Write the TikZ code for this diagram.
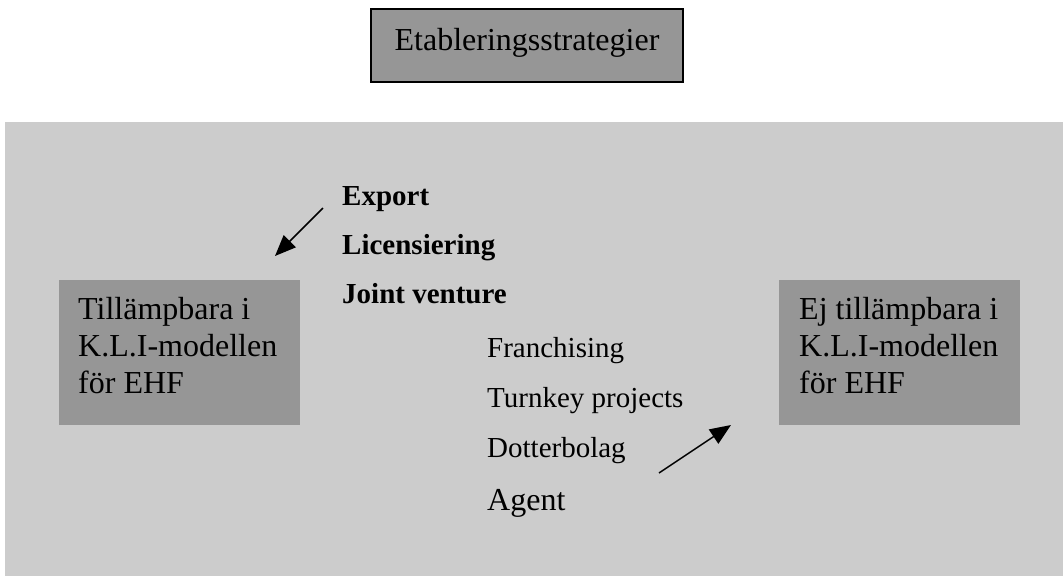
\documentclass[tikz,border=0pt]{standalone}
\usepackage{fontspec}
\setmainfont{Liberation Serif}
\usetikzlibrary{arrows.meta}

\definecolor{panelgray}{HTML}{CCCCCC}
\definecolor{boxgray}{HTML}{969696}

\tikzset{
  x=1pt, y=-1pt,
  titlebox/.style={draw=black, line width=2pt, fill=boxgray, inner sep=0pt,
    minimum width=312pt, text height=41pt, text depth=32pt,
    font=\fontsize{32}{37}\selectfont, anchor=north},
  panelbox/.style={fill=panelgray, inner sep=0pt, anchor=north west,
    minimum width=1058pt, minimum height=454pt},
  sidebox/.style={fill=boxgray, inner sep=0pt, anchor=north west,
    minimum width=241pt, minimum height=145pt},
  sidetext/.style={font=\fontsize{32}{37}\selectfont, align=left,
    anchor=north west, inner sep=0pt},
  strong/.style={font=\fontsize{29}{29}\selectfont\bfseries,
    anchor=base west, inner sep=0pt},
  plain/.style={font=\fontsize{29}{29}\selectfont,
    anchor=base west, inner sep=0pt},
  plainbig/.style={font=\fontsize{32}{32}\selectfont,
    anchor=base west, inner sep=0pt},
  pointer/.style={line width=1.5pt, -{Triangle[length=21pt,width=17pt]}}
}

\begin{document}
\begin{tikzpicture}
  \useasboundingbox (0,0) rectangle (1063,576);

  % heading
  \node[titlebox] (title) at (527,8) {Etableringsstrategier};

  % grey panel holding the classification
  \node[panelbox] (panel) at (5,122) {};

  % the two target groups
  \node[sidebox] (lbox) at (59,280) {};
  \node[sidetext] (ltext) at (78,297) {Tillämpbara i\\K.L.I-modellen\\för EHF};
  \node[sidebox] (rbox) at (779,280) {};
  \node[sidetext] (rtext) at (799,297) {Ej tillämpbara i\\K.L.I-modellen\\för EHF};

  % applicable strategies
  \node[strong] (export) at (342,205) {Export};
  \node[strong] (lic) at (342,254) {Licensiering};
  \node[strong] (jv) at (342,303) {Joint venture};

  % non-applicable strategies
  \node[plain] (franch) at (487,357) {Franchising};
  \node[plain] (turnkey) at (487,407) {Turnkey projects};
  \node[plain] (dotter) at (487,457) {Dotterbolag};
  \node[plainbig] (agent) at (487,510) {Agent};

  % arrows towards the groups
  \coordinate (a1s) at (323,208);
  \coordinate (a1e) at (275,256);
  \coordinate (a2s) at (659,473);
  \coordinate (a2e) at (731,425);
  \draw[pointer] (a1s) -- (a1e);
  \draw[pointer] (a2s) -- (a2e);
\end{tikzpicture}
\end{document}
